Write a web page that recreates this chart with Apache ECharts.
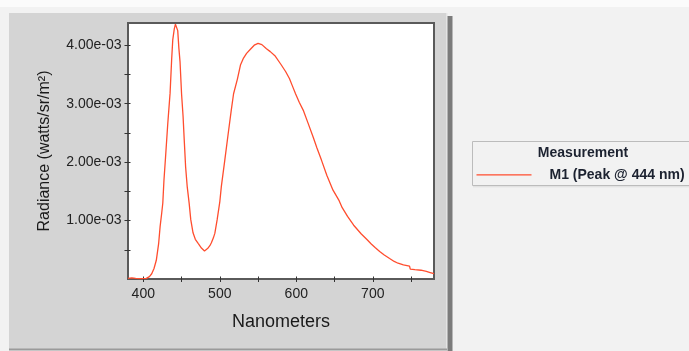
<!DOCTYPE html>
<html>
<head>
<meta charset="utf-8">
<style>
  html, body { margin: 0; padding: 0; background: #f2f2f2; }
  #chart { width: 689px; height: 351px; }
</style>
<script src="https://cdn.jsdelivr.net/npm/echarts@6/dist/echarts.min.js"></script>
</head>
<body>
<div id="chart"></div>
<script>
// ---- Data ----
const wavelengthNm = [
  380, 385, 390, 395, 400, 404, 408, 411, 414, 417, 420, 422, 424, 425.5, 427, 429, 432, 435, 437, 438.5,
  440.5, 442, 443.5, 445, 446.5, 448, 450, 452, 453.5, 455.3, 457.4, 460, 462, 465, 468, 471.7, 476, 480,
  484, 487, 489, 491.5, 493.5, 496.5, 500, 502, 506.5, 511, 515, 518, 523, 527, 531, 535, 540, 545, 550,
  555, 561, 566, 572, 580, 586, 591, 595, 599, 604, 609, 615, 622, 627, 633, 640, 648, 656, 660, 667,
  675, 685, 692, 698, 703, 709, 715, 722, 728, 733, 740, 748, 749, 755, 763, 770, 775, 780
];
const radiance = [
  1.0e-5, 2.0e-5, 1.0e-5, 5e-6, 5e-6, 1.0e-5, 4.0e-5, 9.0e-5, 1.8e-4, 3.2e-4, 6.0e-4, 9.0e-4, 1.12e-3, 1.30e-3, 1.69e-3, 2.07e-3, 2.66e-3, 3.18e-3, 3.74e-3, 4.09e-3,
  4.28e-3, 4.36e-3, 4.38e-3, 4.25e-3, 3.95e-3, 3.72e-3, 3.17e-3, 2.78e-3, 2.38e-3, 1.92e-3, 1.58e-3, 1.29e-3, 1.02e-3, 7.9e-4, 6.8e-4, 6.1e-4, 5.3e-4, 4.8e-4,
  5.2e-4, 5.7e-4, 6.2e-4, 7.0e-4, 7.8e-4, 1.01e-3, 1.32e-3, 1.58e-3, 2.03e-3, 2.49e-3, 2.89e-3, 3.17e-3, 3.42e-3, 3.66e-3, 3.78e-3, 3.86e-3, 3.93e-3, 4.00e-3, 4.03e-3,
  4.01e-3, 3.94e-3, 3.89e-3, 3.82e-3, 3.67e-3, 3.55e-3, 3.43e-3, 3.30e-3, 3.17e-3, 3.02e-3, 2.89e-3, 2.68e-3, 2.43e-3, 2.24e-3, 2.03e-3, 1.77e-3, 1.52e-3, 1.34e-3, 1.22e-3, 1.07e-3,
  9.2e-4, 7.7e-4, 6.8e-4, 6.0e-4, 5.4e-4, 4.7e-4, 4.1e-4, 3.5e-4, 3.0e-4, 2.7e-4, 2.4e-4, 2.2e-4, 1.7e-4, 1.6e-4, 1.5e-4, 1.3e-4, 1.1e-4, 9e-5
];
const seriesName = 'M1 (Peak @ 444 nm)';
const legendTitle = 'Measurement';
const xTitle = 'Nanometers';
const yTitle = 'Radiance (watts/sr/m²)';
const xLabelValues = [400, 500, 600, 700];
const xTickValues = [400, 450, 500, 550, 600, 650, 700, 750];
const yLabelValues = [0.001, 0.002, 0.003, 0.004];
const yTickValues = [0.0005, 0.001, 0.0015, 0.002, 0.0025, 0.003, 0.0035, 0.004];

// ---- Chart ----
const seriesData = wavelengthNm.map((x, i) => [x, radiance[i]]);
function sciLabel(v) {
  const parts = v.toExponential(2).split('e');
  const sign = parts[1][0] === '-' ? '-' : '+';
  const digits = parts[1].replace(/^[-+]/, '').padStart(2, '0');
  return parts[0] + 'e' + sign + digits;
}
const FONT = 'Liberation Sans, Arial, sans-serif';
const LINE_COLOR = '#ff4d2e';
const chart = echarts.init(document.getElementById('chart'), null, { renderer: 'canvas' });
chart.setOption({
  backgroundColor: '#f2f2f2',
  animation: false,
  graphic: { elements: [
    { type: 'rect', z: -100, shape: { x: 0, y: 0, width: 689, height: 7 }, style: { fill: '#fbfbfb' } },
    { type: 'rect', z: -99, shape: { x: 9, y: 13, width: 437, height: 336 }, style: { fill: '#d4d4d4' } },
    { type: 'rect', z: -98, shape: { x: 446, y: 13, width: 1.5, height: 337 }, style: { fill: '#e4e4e4' } },
    { type: 'rect', z: -98, shape: { x: 447.5, y: 16, width: 5, height: 335 }, style: { fill: '#7c7c7c' } },
    { type: 'rect', z: -98, shape: { x: 9, y: 348.5, width: 438, height: 2 }, style: { fill: '#9a9a9a' } },
    { type: 'rect', z: -97, shape: { x: 472.5, y: 141.5, width: 230, height: 44 }, style: { fill: 'none', stroke: '#bcbcbc', lineWidth: 1 } },
    { type: 'line', z: -97, shape: { x1: 473, y1: 186.8, x2: 689, y2: 186.8 }, style: { stroke: '#dcdcdc', lineWidth: 1 } },
    { type: 'text', x: 583, y: 153.5, style: { text: legendTitle, font: 'bold 14px ' + FONT, fill: '#1c2230', align: 'center', verticalAlign: 'middle' } }
  ]},
  legend: {
    data: [{ name: seriesName, icon: 'rect' }],
    left: 476.5, top: 167.9,
    padding: 0,
    itemWidth: 55, itemHeight: 1.4,
    selectedMode: false,
    itemStyle: { color: LINE_COLOR },
    textStyle: { fontFamily: FONT, fontWeight: 'bold', fontSize: 14, color: '#1c2230', padding: [0, 0, 0, 13] }
  },
  grid: {
    left: 128, top: 23, width: 306, height: 256,
    show: true, backgroundColor: '#ffffff', borderColor: '#5a5a5a', borderWidth: 2
  },
  xAxis: {
    type: 'value', min: 380, max: 780,
    offset: -2.5,
    axisLine: { show: false },
    splitLine: { show: false },
    axisTick: { show: true, length: 5.5, lineStyle: { color: '#333', width: 1 }, customValues: xTickValues },
    axisLabel: { customValues: xLabelValues, margin: 11, fontFamily: FONT, fontSize: 14, color: '#222' },
    name: xTitle, nameLocation: 'middle', nameGap: 37,
    nameTextStyle: { fontFamily: FONT, fontSize: 18, color: '#1a1a1a' }
  },
  yAxis: {
    type: 'value', min: 0, max: 0.00438,
    offset: -2.5,
    axisLine: { show: false },
    splitLine: { show: false },
    axisTick: { show: true, length: 6, lineStyle: { color: '#333', width: 1 }, customValues: yTickValues },
    axisLabel: { customValues: yLabelValues, margin: 9, fontFamily: FONT, fontSize: 14, color: '#222', formatter: sciLabel },
    name: yTitle, nameLocation: 'middle', nameRotate: 90, nameGap: 78,
    nameTextStyle: { fontFamily: FONT, fontSize: 16, color: '#1a1a1a' }
  },
  series: [{
    name: seriesName,
    type: 'line',
    data: seriesData,
    symbol: 'none',
    showSymbol: false,
    clip: true,
    lineStyle: { color: LINE_COLOR, width: 1.3 },
    itemStyle: { color: LINE_COLOR }
  }]
});
</script>
</body>
</html>
